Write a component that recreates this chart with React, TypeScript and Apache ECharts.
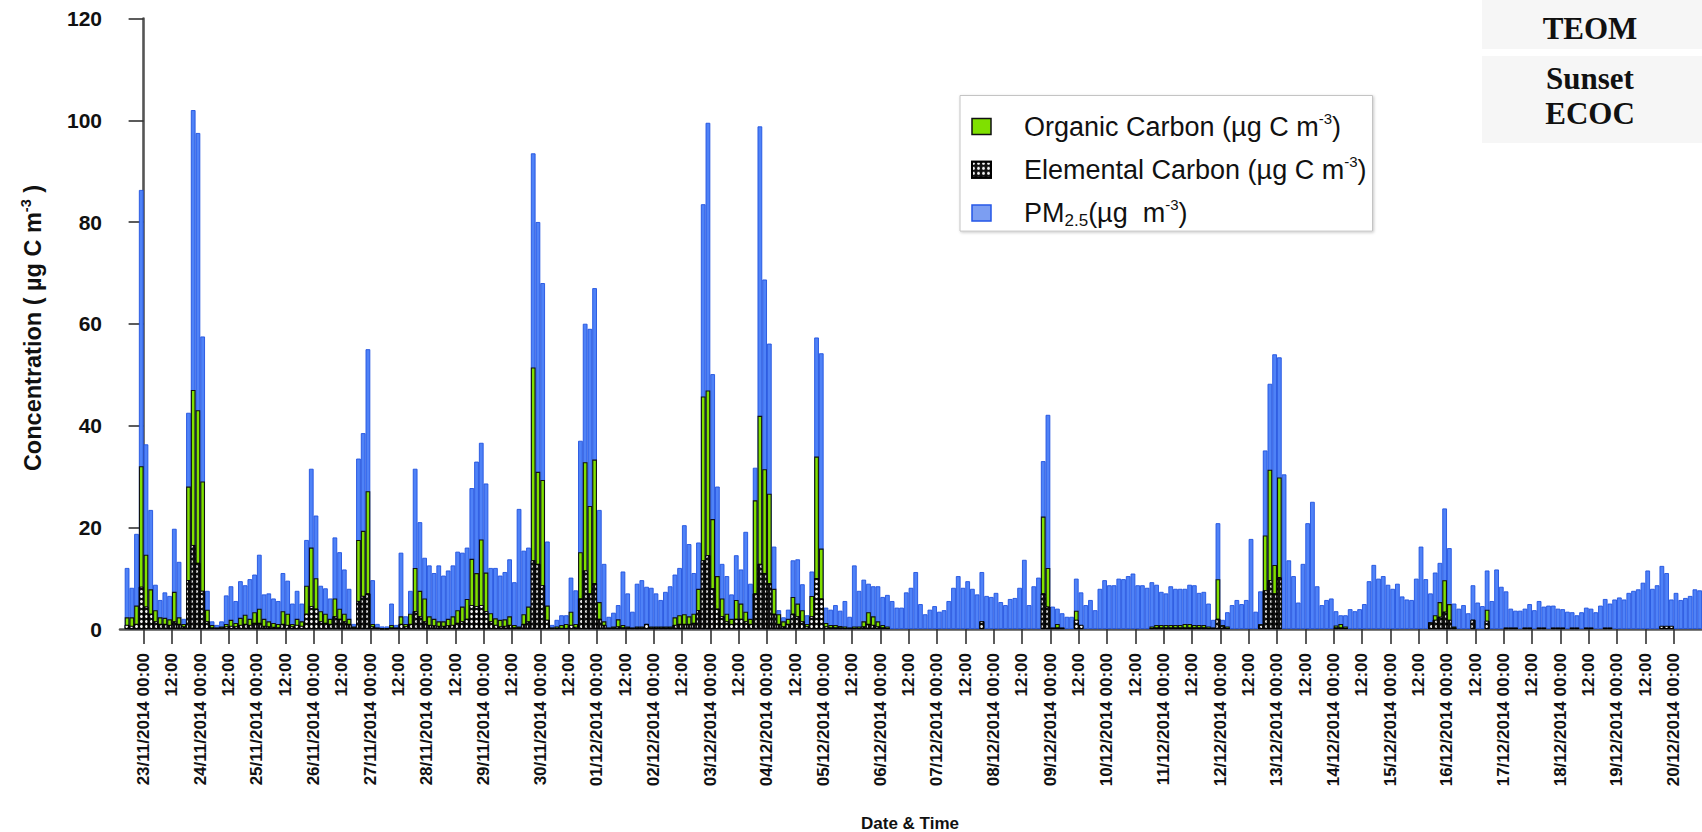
import React, { useEffect, useRef } from 'react';
import * as echarts from 'echarts';

const FONT = '"Liberation Sans", Arial, Helvetica, sans-serif';
const SERIF = '"Liberation Serif", "DejaVu Serif", "Times New Roman", serif';

// Tick labels: one per day (00:00) plus a 12:00 label in between
const dayLabels = [
  '23/11/2014', '24/11/2014', '25/11/2014', '26/11/2014', '27/11/2014', '28/11/2014', '29/11/2014',
  '30/11/2014', '01/12/2014', '02/12/2014', '03/12/2014', '04/12/2014', '05/12/2014', '06/12/2014',
  '07/12/2014', '08/12/2014', '09/12/2014', '10/12/2014', '11/12/2014', '12/12/2014', '13/12/2014',
  '14/12/2014', '15/12/2014', '16/12/2014', '17/12/2014', '18/12/2014', '19/12/2014', '20/12/2014',
];
const midnightText = '00:00';
const noonText = '12:00';

// 2-hour samples; first sample starts 22/11/2014 16:00 (hours relative to 23/11/2014 00:00)
const firstSlotHour = -8;
const slotHours = 2;

// PM2.5 (µg m-3), one value per 2-hour slot
const pm25 = [
  12, 8.1, 18.7, 86.3,
  36.3, 23.4, 8.7, 5.7, 7.2, 6.5, 19.7, 13.2, 2.0, 42.5, 102, 97.5,
  57.5, 7.5, 1.5, 0.8, 1.5, 6.6, 8.4, 5.5, 9.4, 8.6, 9.8, 10.7,
  14.6, 6.8, 7.0, 6.0, 5.5, 11.0, 9.5, 5.0, 7.5, 5.0, 17.5, 31.5,
  22.3, 8.5, 8.0, 6.0, 18.0, 15.1, 11.7, 7.9, 1.0, 33.5, 38.5, 55.0,
  9.6, 1.0, 0.5, 0.5, 5.0, 0.8, 15.0, 2.5, 7.5, 31.5, 21.0, 14.0,
  12.5, 11.0, 12.5, 10.5, 11.5, 12.5, 15.2, 15.0, 16.0, 27.7, 32.9, 36.6,
  28.6, 12.0, 12.0, 10.5, 11.2, 13.7, 9.2, 23.6, 15.4, 16.0, 93.5, 80.0,
  68.0, 17.2, 0.8, 1.8, 2.7, 2.7, 10.1, 7.6, 37.0, 60.0, 59.0, 67.0,
  23.4, 12.8, 2.4, 3.2, 4.7, 11.3, 7.0, 3.4, 8.9, 9.6, 8.3, 8.1,
  7.0, 5.7, 7.3, 8.4, 10.7, 12.0, 20.4, 16.7, 11.0, 17.0, 83.5, 99.5,
  50.1, 28.0, 12.8, 10.4, 6.8, 14.5, 11.7, 19.1, 8.9, 31.7, 98.8, 68.7,
  56.1, 16.2, 3.7, 2.3, 3.8, 13.5, 13.7, 8.8, 2.7, 11.3, 57.3, 54.2,
  4.2, 3.8, 4.7, 3.6, 5.5, 2.4, 12.5, 7.5, 9.7, 8.9, 8.4, 8.4,
  6.3, 6.7, 5.5, 4.2, 4.2, 7.2, 8.1, 11.2, 4.9, 2.9, 3.8, 4.5,
  3.4, 3.7, 5.5, 8.1, 10.4, 8.1, 9.4, 7.9, 6.8, 11.2, 6.5, 6.3,
  7.1, 5.3, 4.7, 5.9, 6.1, 8.1, 13.6, 4.7, 8.4, 10.1, 33.0, 42.1,
  4.4, 4.0, 3.1, 2.4, 2.4, 9.9, 7.2, 4.7, 5.7, 3.7, 7.9, 9.6,
  8.6, 8.6, 9.9, 9.8, 10.4, 10.9, 8.6, 8.6, 8.1, 9.2, 8.7, 7.3,
  7.0, 8.4, 7.9, 7.9, 7.9, 8.7, 8.6, 7.1, 7.3, 5.0, 1.8, 20.8,
  1.8, 3.3, 4.7, 5.7, 4.9, 5.7, 17.7, 3.4, 7.4, 35.1, 48.2, 54.0,
  53.4, 30.4, 13.5, 10.4, 5.2, 12.8, 20.8, 25.0, 8.4, 4.7, 5.7, 6.0,
  3.5, 2.7, 2.7, 3.9, 3.5, 3.9, 4.9, 9.4, 12.6, 9.9, 10.4, 8.7,
  7.9, 8.9, 6.4, 5.8, 5.7, 9.9, 16.2, 9.8, 7.0, 11.1, 13.0, 23.7,
  15.9, 5.0, 4.0, 4.7, 3.1, 8.6, 5.2, 4.5, 11.5, 5.5, 11.7, 8.3,
  7.4, 4.0, 3.6, 3.6, 4.0, 4.9, 3.7, 5.5, 4.4, 4.6, 4.6, 4.0,
  3.9, 3.4, 3.3, 2.7, 3.3, 4.2, 4.0, 3.3, 4.6, 5.9, 5.0, 5.8,
  6.2, 5.8, 7.1, 7.5, 7.8, 9.1, 11.5, 7.9, 8.6, 12.4, 11.0, 5.8,
  7.1, 5.7, 6.1, 6.5, 7.8, 7.6,
];

// Organic carbon (µg C m-3)
const organicCarbon = [
  2.3, 2.3, 4.6, 32.0,
  14.6, 7.8, 3.7, 2.3, 2.2, 1.9, 7.3, 2.3, 1.0, 28.0, 47.0, 43.0,
  29.0, 3.8, 0.8, 0.3, 0.5, 1.0, 1.8, 1.2, 2.2, 2.8, 2.0, 3.3,
  4.0, 2.0, 1.5, 1.2, 1.0, 3.5, 3.0, 1.0, 2.0, 1.5, 8.5, 16.0,
  10.0, 3.5, 3.0, 2.0, 6.0, 4.0, 3.0, 2.0, 0.5, 17.5, 19.3, 27.1,
  1.0, 0.3, 0.2, 0.2, 0.8, 0.3, 2.5, 1.0, 3.0, 12.0, 7.5, 6.0,
  2.5, 2.0, 1.5, 1.5, 2.0, 2.5, 3.7, 4.4, 5.9, 13.8, 11.0, 17.6,
  11.1, 3.1, 2.1, 1.8, 1.9, 2.5, 0.8, 0.5, 2.9, 4.4, 51.4, 30.9,
  29.3, 4.6, 0.3, 0.5, 0.8, 1.0, 3.4, 1.0, 15.1, 32.8, 24.2, 33.3,
  5.3, 1.5, 0.3, 0.5, 1.9, 0.8, 0.5, 0.3, 0.5, 0.5, 1.0, 0.5,
  0.5, 0.5, 0.5, 0.5, 2.3, 2.7, 2.9, 2.5, 3.0, 7.9, 45.7, 46.9,
  21.6, 10.4, 6.0, 3.0, 2.0, 5.7, 5.0, 3.4, 2.0, 25.3, 41.9, 31.4,
  26.6, 7.9, 2.9, 1.5, 2.0, 6.3, 5.0, 3.7, 1.0, 6.5, 33.9, 15.8,
  1.2, 0.8, 0.8, 0.6, 0.5, 0.3, 0.5, 0.5, 1.5, 3.3, 2.5, 1.5,
  0.8, 0.5, 0, 0, 0, 0, 0, 0, 0, 0, 0, 0,
  0, 0, 0, 0, 0, 0, 0, 0, 0, 1.5, 0, 0,
  0, 0, 0, 0, 0, 0, 0, 0, 0, 0, 22.1, 12.0,
  0.3, 1.0, 0.3, 0, 0, 3.6, 0.5, 0, 0, 0, 0, 0,
  0, 0, 0, 0, 0, 0, 0, 0, 0, 0.5, 0.8, 0.8,
  0.8, 0.8, 0.8, 0.8, 1.0, 1.0, 0.8, 0.8, 0.8, 0.5, 0.3, 9.8,
  0.8, 0.5, 0, 0, 0, 0, 0, 0, 1.0, 18.4, 31.3, 12.6,
  29.8, 0, 0, 0, 0, 0, 0, 0, 0, 0, 0, 0,
  0.7, 1.0, 0.5, 0, 0, 0, 0, 0, 0, 0, 0, 0,
  0, 0, 0, 0, 0, 0, 0, 0, 1.3, 2.7, 5.3, 9.6,
  4.9, 0.5, 0, 0, 0, 1.8, 0, 0, 3.8, 0, 0, 0,
  0.3, 0.3, 0.3, 0, 0.3, 0.3, 0, 0.3, 0.3, 0, 0.3, 0.3,
  0.3, 0, 0.3, 0.3, 0, 0.3, 0.3, 0, 0, 0.3, 0.3, 0,
  0, 0, 0, 0, 0, 0, 0, 0, 0, 0.5, 0.5, 0.5,
  0, 0, 0, 0, 0, 0,
];

// Elemental carbon (µg C m-3)
const elementalCarbon = [
  0.8, 0.6, 1.0, 8.3,
  4.4, 3.0, 1.5, 1.0, 1.0, 0.8, 1.5, 1.0, 0.5, 9.6, 16.5, 13.0,
  7.5, 1.5, 0.3, 0.2, 0.3, 0.5, 0.6, 0.5, 0.8, 1.0, 0.8, 1.2,
  1.2, 0.6, 0.5, 0.4, 0.3, 1.0, 0.8, 0.5, 0.8, 0.6, 3.0, 4.5,
  4.0, 1.5, 1.2, 1.0, 2.5, 2.0, 1.5, 1.0, 0.3, 5.5, 6.5, 7.0,
  0.5, 0.2, 0.1, 0.1, 0.3, 0.2, 1.0, 0.5, 1.0, 3.5, 2.5, 1.5,
  0.8, 0.7, 0.6, 0.6, 0.7, 0.8, 1.2, 1.5, 2.0, 4.7, 4.5, 4.7,
  3.5, 1.5, 0.8, 0.5, 0.6, 0.8, 0.3, 0.3, 1.0, 1.5, 13.5, 12.8,
  8.6, 1.8, 0.2, 0.2, 0.2, 0.2, 0.8, 0.4, 6.0, 11.5, 7.0, 9.0,
  2.0, 0.8, 0.2, 0.3, 0.5, 0.3, 0.3, 0.2, 0.3, 0.3, 1.0, 0.3,
  0.3, 0.3, 0.3, 0.3, 0.8, 1.0, 1.0, 1.0, 1.2, 3.7, 13.5, 14.5,
  8.0, 4.0, 2.5, 1.5, 1.0, 2.0, 2.0, 1.5, 1.0, 7.0, 12.8, 11.0,
  9.0, 3.0, 1.0, 0.5, 1.0, 3.0, 2.5, 1.5, 0.5, 2.5, 10.0, 6.0,
  0.5, 0.3, 0.3, 0.3, 0.2, 0.2, 0.2, 0.2, 0.5, 1.0, 0.8, 0.5,
  0.3, 0.2, 0, 0, 0, 0, 0, 0, 0, 0, 0, 0,
  0, 0, 0, 0, 0, 0, 0, 0, 0, 1.5, 0, 0,
  0, 0, 0, 0, 0, 0, 0, 0, 0, 0, 7.0, 4.4,
  0.2, 0.3, 0.2, 0, 0, 1.8, 0.8, 0, 0, 0, 0, 0,
  0, 0, 0, 0, 0, 0, 0, 0, 0, 0.2, 0.3, 0.3,
  0.3, 0.3, 0.3, 0.3, 0.3, 0.3, 0.3, 0.3, 0.3, 0.2, 0.2, 2.0,
  0.5, 0.2, 0, 0, 0, 0, 0, 0, 0.8, 7.6, 9.6, 7.0,
  10.2, 0, 0, 0, 0, 0, 0, 0, 0, 0, 0, 0,
  0.3, 0.3, 0.2, 0, 0, 0, 0, 0, 0, 0, 0, 0,
  0, 0, 0, 0, 0, 0, 0, 0, 1.3, 1.8, 2.4, 3.4,
  1.8, 0.3, 0, 0, 0, 1.8, 0, 0, 1.6, 0, 0, 0,
  0.2, 0.2, 0.2, 0, 0.2, 0.2, 0, 0.2, 0.2, 0, 0.2, 0.2,
  0.2, 0, 0.2, 0.2, 0, 0.2, 0.2, 0, 0, 0.2, 0.2, 0,
  0, 0, 0, 0, 0, 0, 0, 0, 0, 0.6, 0.6, 0.6,
  0, 0, 0, 0, 0, 0,
];

const seriesNames = ['PM2.5', 'Organic Carbon', 'Elemental Carbon'];

function toBars(values: number[]) {
  return values.map((v, i) => [firstSlotHour + i * slotHours + slotHours / 2, v > 0 ? v : '-']);
}

const tickHours: number[] = [];
dayLabels.forEach((_, d) => {
  tickHours.push(d * 24);
  if (d < dayLabels.length - 1) tickHours.push(d * 24 + 12);
});

function tickFormatter(value: number) {
  const h = Math.round(value);
  if (h % 24 === 0) return `${dayLabels[h / 24]} ${midnightText}`;
  return noonText;
}

const legendText: Record<string, string> = {
  'Organic Carbon': '{sp| }{t|Organic Carbon (µg C m}{sup|-3}{t|)}',
  'Elemental Carbon': '{sp| }{t|Elemental Carbon (µg C m}{sup|-3}{t|)}',
  'PM2.5': '{sp| }{t|PM}{sub|2.5}{t|(µg  m}{sup|-3}{t|)}',
};

const BAR_W = 4.72;

export default function App() {
  const ref = useRef<HTMLDivElement>(null);

  useEffect(() => {
    if (!ref.current) return;
    const chart = echarts.init(ref.current, undefined, { renderer: 'svg' });

    const ecDecal = {
      symbol: 'circle',
      symbolSize: 1,
      color: 'rgba(255,255,255,0.95)',
      dashArrayX: [3, 1.2],
      dashArrayY: [3, 1.2],
      rotation: 0,
    };

    const option: any = {
      animation: false,
      backgroundColor: '#ffffff',
      grid: { left: 120, right: 0, top: 18.5, bottom: 203, containLabel: false, outerBoundsMode: 'none' },
      xAxis: {
        type: 'value',
        min: -10,
        max: 660,
        axisLine: { show: true, onZero: false, lineStyle: { color: '#555', width: 2.6 } },
        axisTick: { show: true, customValues: tickHours, length: 15, lineStyle: { color: '#333', width: 1.6 } },
        axisLabel: {
          customValues: tickHours,
          rotate: 90,
          margin: 24,
          formatter: tickFormatter,
          fontSize: 17,
          fontWeight: 'bold',
          fontFamily: FONT,
          color: '#111',
        },
        splitLine: { show: false },
      },
      yAxis: {
        type: 'value',
        min: 0,
        max: 120,
        interval: 20,
        axisLine: { show: true, lineStyle: { color: '#555', width: 2.6 } },
        axisTick: { show: true, length: 15, lineStyle: { color: '#333', width: 1.6 } },
        axisLabel: { fontSize: 21, fontWeight: 'bold', fontFamily: FONT, color: '#111', margin: 18 },
        splitLine: { show: false },
      },
      legend: {
        orient: 'vertical',
        left: 960,
        top: 95.5,
        padding: [15, 6, 2, 11],
        itemGap: 13.8,
        itemWidth: 19,
        itemHeight: 16,
        icon: 'rect',
        selectedMode: false,
        backgroundColor: '#ffffff',
        borderColor: '#c4c4c4',
        borderWidth: 1,
        shadowBlur: 3,
        shadowColor: 'rgba(0,0,0,0.22)',
        shadowOffsetX: 1,
        shadowOffsetY: 1,
        data: [
          { name: 'Organic Carbon', itemStyle: { color: '#7fe000', borderColor: '#111', borderWidth: 1.5 } },
          { name: 'Elemental Carbon' },
          { name: 'PM2.5', itemStyle: { color: '#7c9ef2', borderColor: '#2457e8', borderWidth: 1.5 } },
        ],
        formatter: (name: string) => legendText[name] || name,
        textStyle: {
          rich: {
            sp: { width: 28, fontSize: 27, lineHeight: 32 },
            t: { fontSize: 27, lineHeight: 32, fontFamily: FONT, color: '#111' },
            sup: { fontSize: 15, lineHeight: 10, verticalAlign: 'top', fontFamily: FONT, color: '#111' },
            sub: { fontSize: 17, lineHeight: 12, verticalAlign: 'bottom', fontFamily: FONT, color: '#111' },
          },
        },
      },
      series: [
        {
          name: seriesNames[0],
          type: 'bar',
          data: toBars(pm25),
          barWidth: BAR_W,
          barGap: '-100%',
          itemStyle: { color: '#4f82f7', borderColor: '#2052e0', borderWidth: 0.9 },
          z: 2,
        },
        {
          name: seriesNames[1],
          type: 'bar',
          data: toBars(organicCarbon),
          barWidth: BAR_W,
          barGap: '-100%',
          itemStyle: { color: '#7fe000', borderColor: '#111', borderWidth: 1.1 },
          z: 3,
        },
        {
          name: seriesNames[2],
          type: 'bar',
          data: toBars(elementalCarbon),
          barWidth: BAR_W,
          barGap: '-100%',
          itemStyle: { color: '#111', borderColor: '#000', borderWidth: 0.8, decal: ecDecal },
          z: 4,
        },
      ],
      graphic: [
        {
          type: 'text',
          x: 33,
          y: 328,
          rotation: Math.PI / 2,
          style: {
            text: '{b|Concentration ( µg C m}{s|-3}{b| )}',
            align: 'center',
            verticalAlign: 'middle',
            rich: {
              b: { fontSize: 23.5, fontWeight: 'bold', fontFamily: FONT, fill: '#111', lineHeight: 30 },
              s: { fontSize: 14.5, fontWeight: 'bold', fontFamily: FONT, fill: '#111', lineHeight: 10, verticalAlign: 'top' },
            },
          },
        },
        {
          type: 'text',
          x: 910,
          y: 823,
          style: {
            text: 'Date & Time',
            font: `bold 17px ${FONT}`,
            fill: '#111',
            align: 'center',
            verticalAlign: 'middle',
          },
        },
        { type: 'rect', shape: { x: 1482, y: 0, width: 220, height: 49 }, style: { fill: '#f6f6f6' } },
        { type: 'rect', shape: { x: 1482, y: 56, width: 220, height: 87 }, style: { fill: '#f6f6f6' } },
        {
          type: 'text', x: 1590, y: 28,
          style: { text: 'TEOM', font: `bold 31px ${SERIF}`, fill: '#111', align: 'center', verticalAlign: 'middle' },
        },
        {
          type: 'text', x: 1590, y: 78,
          style: { text: 'Sunset', font: `bold 31px ${SERIF}`, fill: '#111', align: 'center', verticalAlign: 'middle' },
        },
        {
          type: 'text', x: 1590, y: 113,
          style: { text: 'ECOC', font: `bold 31px ${SERIF}`, fill: '#111', align: 'center', verticalAlign: 'middle' },
        },
      ],
    };

    chart.setOption(option);
    return () => chart.dispose();
  }, []);

  return (
    <div
      ref={ref}
      style={{ position: 'fixed', left: 0, top: 0, width: 1702, height: 832, background: '#fff' }}
    />
  );
}
